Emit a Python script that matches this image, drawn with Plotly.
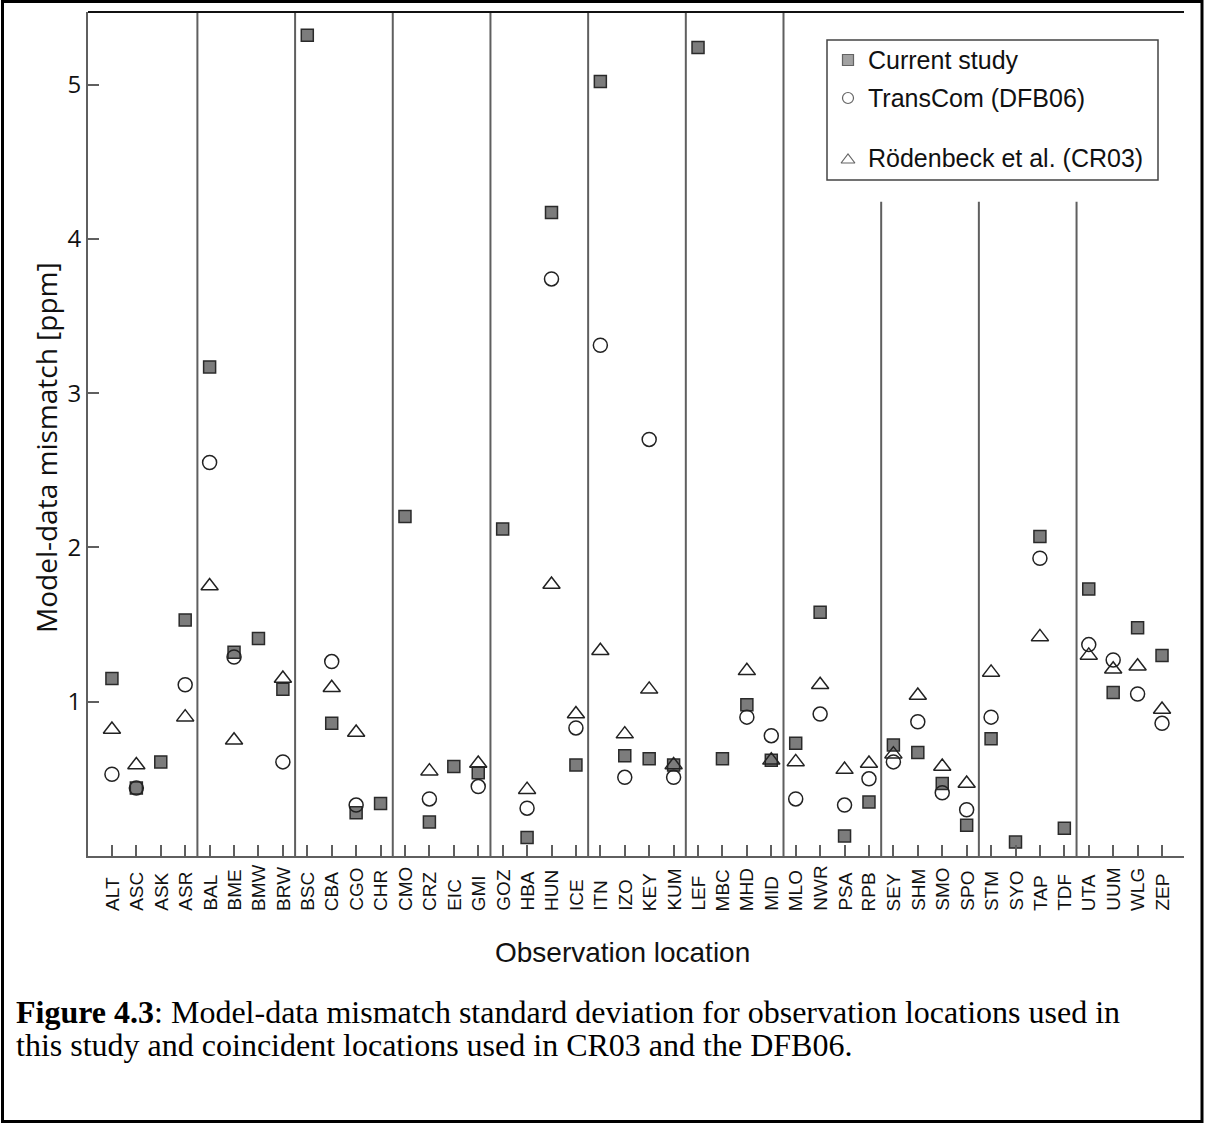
import plotly.graph_objects as go

# Observation stations (grouped in blocks of four on the x axis)
stations = ["ALT", "ASC", "ASK", "ASR", "BAL", "BME", "BMW", "BRW", "BSC", "CBA", "CGO", "CHR",
            "CMO", "CRZ", "EIC", "GMI", "GOZ", "HBA", "HUN", "ICE", "ITN", "IZO", "KEY", "KUM",
            "LEF", "MBC", "MHD", "MID", "MLO", "NWR", "PSA", "RPB", "SEY", "SHM", "SMO", "SPO",
            "STM", "SYO", "TAP", "TDF", "UTA", "UUM", "WLG", "ZEP"]

# Model-data mismatch standard deviation [ppm]
current_study = [1.15, 0.44, 0.61, 1.53, 3.17, 1.32, 1.41, 1.08, 5.32, 0.86, 0.28, 0.34,
                 2.20, 0.22, 0.58, 0.54, 2.12, 0.12, 4.17, 0.59, 5.02, 0.65, 0.63, 0.59,
                 5.24, 0.63, 0.98, 0.62, 0.73, 1.58, 0.13, 0.35, 0.72, 0.67, 0.47, 0.20,
                 0.76, 0.09, 2.07, 0.18, 1.73, 1.06, 1.48, 1.30]

transcom_dfb06 = [0.53, 0.44, None, 1.11, 2.55, 1.29, None, 0.61, None, 1.26, 0.33, None,
                  None, 0.37, None, 0.45, None, 0.31, 3.74, 0.83, 3.31, 0.51, 2.70, 0.51,
                  None, None, 0.90, 0.78, 0.37, 0.92, 0.33, 0.50, 0.61, 0.87, 0.41, 0.30,
                  0.90, None, 1.93, None, 1.37, 1.27, 1.05, 0.86]

roedenbeck_cr03 = [0.82, 0.59, None, 0.90, 1.75, 0.75, None, 1.15, None, 1.09, 0.80, None,
                   None, 0.55, None, 0.60, None, 0.43, 1.76, 0.92, 1.33, 0.79, 1.08, 0.59,
                   None, None, 1.20, 0.62, 0.61, 1.11, 0.56, 0.60, 0.66, 1.04, 0.58, 0.47,
                   1.19, None, 1.42, None, 1.30, 1.21, 1.23, 0.95]

y_ticks = [1, 2, 3, 4, 5]
legend_labels = ["Current study", "TransCom (DFB06)", "Rödenbeck et al. (CR03)"]

# ---- page geometry (pixels) ----
W, H = 1206, 1124
ML, MR, MT, MB = 88, 22, 12, 268
PW, PH = W - ML - MR, H - MT - MB


def px_x(px):
    return (px - ML) / PW


def px_y(py):
    return (H - MB - py) / PH


idx = list(range(len(stations)))
GREY = "#5f5f5f"

fig = go.Figure()

fig.add_trace(go.Scatter(
    x=idx, y=current_study, mode="markers", name=legend_labels[0],
    marker=dict(symbol="square", size=12, color="#7c7c7c",
                line=dict(color="#2a2a2a", width=1.5))))
fig.add_trace(go.Scatter(
    x=idx, y=transcom_dfb06, mode="markers", name=legend_labels[1],
    marker=dict(symbol="circle-open", size=14, color="#222222",
                line=dict(width=1.5))))
fig.add_trace(go.Scatter(
    x=idx, y=roedenbeck_cr03, mode="markers", name=legend_labels[2],
    marker=dict(symbol="triangle-up-open", size=15, color="#222222",
                line=dict(width=1.5))))

# legend key symbols drawn on a pixel-space overlay axis
leg_rows = [60, 98, 158]
fig.add_trace(go.Scatter(
    x=[848, 848, 848], y=[leg_rows[0], leg_rows[1], leg_rows[2] + 2], mode="markers",
    xaxis="x2", yaxis="y2", hoverinfo="skip",
    marker=dict(symbol=["square", "circle-open", "triangle-up-open"], size=[11, 11, 12],
                color=["#7c7c7c", "#222222", "#222222"],
                line=dict(color="#222222", width=1.2))))

shapes = []
# group separators between blocks of four stations
group = 4
n_groups = len(stations) // group
for k in range(1, n_groups):
    xs = k * group - 0.5
    short = xs > 28
    shapes.append(dict(type="line", xref="x", yref="y" if short else "paper",
                       x0=xs, x1=xs, y0=0,
                       y1=4.24 if short else 1,
                       line=dict(color=GREY, width=2), layer="below"))
# top frame line
shapes.append(dict(type="line", xref="paper", yref="paper", x0=0, x1=1, y0=1, y1=1,
                   line=dict(color="#111111", width=2)))
# legend box
shapes.append(dict(type="rect", xref="paper", yref="paper",
                   x0=px_x(827), x1=px_x(1158), y0=px_y(180), y1=px_y(40),
                   line=dict(color="#444444", width=1.5), fillcolor="white", layer="below"))
# page border
shapes.append(dict(type="rect", xref="paper", yref="paper",
                   x0=px_x(2.5), x1=px_x(1202), y0=px_y(1121.5), y1=px_y(1.5),
                   line=dict(color="black", width=3)))

annotations = []
# station labels, bottom-aligned and rotated
for i, s in enumerate(stations):
    annotations.append(dict(x=i, y=px_y(913), xref="x", yref="paper", text=s,
                            textangle=-90, showarrow=False, xanchor="center", yanchor="bottom",
                            font=dict(family="Liberation Sans, Arial", size=19, color="#111111")))
# legend texts
for lab, ry in zip(legend_labels, leg_rows):
    annotations.append(dict(x=px_x(866), y=px_y(ry), xref="paper", yref="paper", text=lab,
                            showarrow=False, xanchor="left", yanchor="middle",
                            font=dict(family="Liberation Sans, Arial", size=25, color="#111111")))
# axis titles
annotations.append(dict(x=px_x(622), y=px_y(953), xref="paper", yref="paper",
                        text="Observation location", showarrow=False,
                        xanchor="center", yanchor="middle",
                        font=dict(family="Liberation Sans, Arial", size=28, color="#111111")))
annotations.append(dict(x=px_x(46), y=px_y(448), xref="paper", yref="paper",
                        text="Model-data mismatch [ppm]", showarrow=False, textangle=-90,
                        xanchor="center", yanchor="middle",
                        font=dict(family="Open Sans", size=28, color="#111111")))
# caption
cap_font = dict(family="Liberation Serif, Times New Roman", size=32, color="black")
annotations.append(dict(x=px_x(14), y=px_y(1012), xref="paper", yref="paper",
                        text="<b>Figure 4.3</b>: Model-data mismatch standard deviation for "
                             "observation locations used in",
                        showarrow=False, xanchor="left", yanchor="middle", font=cap_font))
annotations.append(dict(x=px_x(14), y=px_y(1045), xref="paper", yref="paper",
                        text="this study and coincident locations used in CR03 and the DFB06.",
                        showarrow=False, xanchor="left", yanchor="middle", font=cap_font))

fig.update_layout(
    width=W, height=H,
    margin=dict(l=ML, r=MR, t=MT, b=MB, pad=0),
    paper_bgcolor="white", plot_bgcolor="white",
    showlegend=False,
    xaxis=dict(range=[-0.98, 43.9], tickvals=idx, showticklabels=False,
               ticks="inside", ticklen=11, tickwidth=1.5, tickcolor=GREY,
               showline=True, linecolor=GREY, linewidth=2,
               showgrid=False, zeroline=False),
    yaxis=dict(range=[0, 5.47], tickvals=y_ticks, ticktext=[str(v) for v in y_ticks],
               ticks="inside", ticklen=11, tickwidth=1.5, tickcolor=GREY,
               showline=True, linecolor=GREY, linewidth=2,
               showgrid=False, zeroline=False,
               tickfont=dict(family="Open Sans", size=24, color="#111111")),
    xaxis2=dict(overlaying="x", range=[ML, W - MR], visible=False, fixedrange=True),
    yaxis2=dict(overlaying="y", range=[H - MB, MT], visible=False, fixedrange=True),
    shapes=shapes,
    annotations=annotations,
)

fig.write_html("out.html")
